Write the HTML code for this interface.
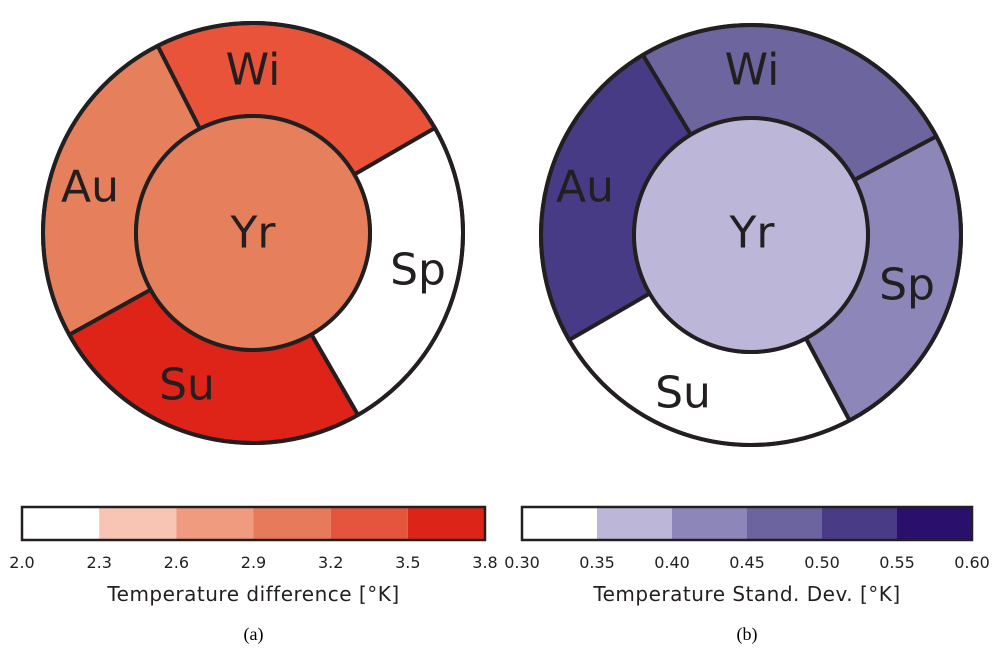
<!DOCTYPE html>
<html><head><meta charset="utf-8"><style>
body{margin:0;background:#fff;width:1000px;height:664px;overflow:hidden}
svg text{font-family:"DejaVu Sans","Liberation Sans",sans-serif}
</style></head><body>
<svg id="s" width="1000" height="664" viewBox="0 0 1000 664" xmlns="http://www.w3.org/2000/svg"></svg>
<script>
const s=document.getElementById('s');let h='';
function P(a,r,cx,cy){a=a*Math.PI/180;return [cx+r*Math.cos(a),cy-r*Math.sin(a)];}
function seg(cx,cy,R,r,a1,a2,fill){
 const p1=P(a1,R,cx,cy),p2=P(a2,R,cx,cy),p3=P(a2,r,cx,cy),p4=P(a1,r,cx,cy);
 const large=((a2-a1+360)%360)>180?1:0;
 return `<path d="M${p1} A${R},${R} 0 ${large} 0 ${p2} L${p3} A${r},${r} 0 ${large} 1 ${p4} Z" fill="${fill}" stroke="#231f20" stroke-width="4" stroke-linejoin="round"/>`;
}
function donut(cx,cy,angs,cols,yr,labels){
 const R=210,r=117;
 for(let i=0;i<4;i++){let a1=angs[i],a2=angs[(i+1)%4];if(a2<a1)a2+=360;h+=seg(cx,cy,R,r,a1,a2,cols[i]);}
 h+=`<circle cx="${cx}" cy="${cy}" r="${r}" fill="${yr}" stroke="#231f20" stroke-width="4"/>`;
 h+=`<circle cx="${cx}" cy="${cy}" r="${R}" fill="none" stroke="#231f20" stroke-width="4"/>`;
 for(const [t,x,y] of labels) h+=`<text x="${x}" y="${y}" font-size="44" text-anchor="middle" dominant-baseline="central" fill="#231f20">${t}</text>`;
}
// left: order Wi(30->117), Au(117->209), Su(209->300), Sp(300->390)
donut(253,233,[30,117,209,300],['#e8533a','#e67f5c','#de2318','#ffffff'],'#e67f5c',
 [['Wi',253,70],['Au',90,187],['Yr',253,233],['Sp',418,270],['Su',187,385]]);
donut(751,235,[28,121,210,298],['#6c659e','#483b86','#ffffff','#8c86b9'],'#bcb6d9',
 [['Wi',752,70],['Au',585,187],['Yr',752,233],['Sp',907,285],['Su',683,393]]);
function bar(x0,x1,cols,ticks,title,cap){
 const w=(x1-x0)/6;
 cols.forEach((c,i)=>h+=`<rect x="${x0+i*w}" y="507" width="${w}" height="33" fill="${c}"/>`);
 h+=`<rect x="${x0}" y="507" width="${x1-x0}" height="33" fill="none" stroke="#231f20" stroke-width="2.5"/>`;
 ticks.forEach((t,i)=>h+=`<text x="${x0+i*w}" y="568" font-size="16" text-anchor="middle" fill="#231f20">${t}</text>`);
 h+=`<text x="${(x0+x1)/2}" y="601" font-size="20" text-anchor="middle" fill="#231f20" letter-spacing="0.5">${title}</text>`;
 h+=`<text x="${(x0+x1)/2}" y="640" font-size="18" text-anchor="middle" fill="#000" style="font-family:'Liberation Serif',serif">${cap}</text>`;
}
bar(22,485,['#ffffff','#f8c5b5','#f09a80','#e67a5a','#e5543d','#dc2419'],['2.0','2.3','2.6','2.9','3.2','3.5','3.8'],'Temperature difference [°K]','(a)');
bar(522,972,['#ffffff','#bcb6d9','#8c86b9','#6c649e','#4a3b87','#2b0f6c'],['0.30','0.35','0.40','0.45','0.50','0.55','0.60'],'Temperature Stand. Dev. [°K]','(b)');
s.innerHTML=h;
</script>
</body></html>
